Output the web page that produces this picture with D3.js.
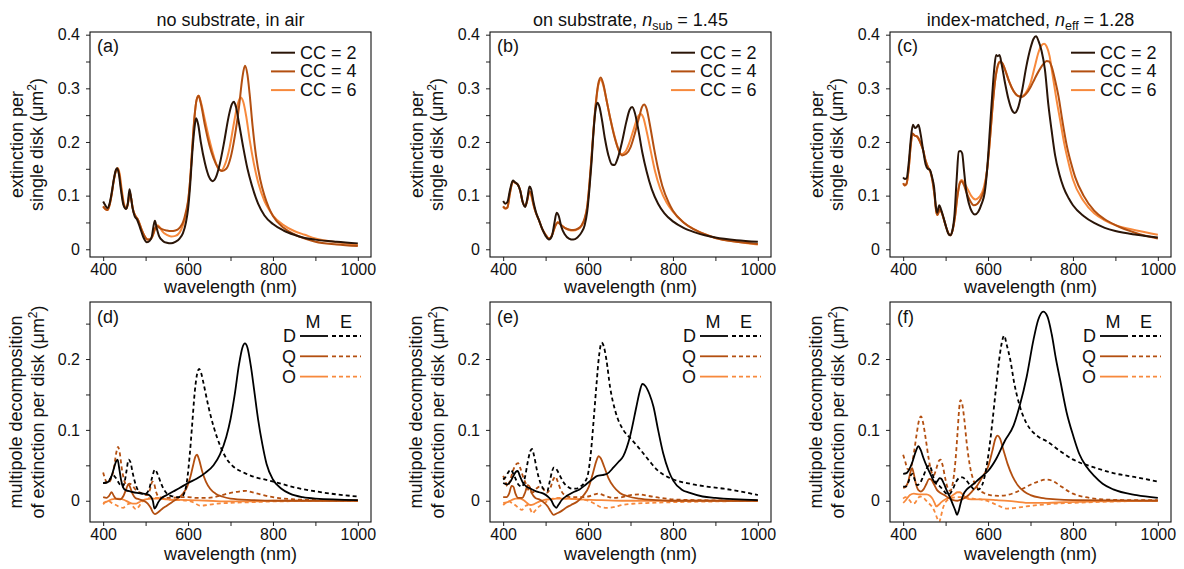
<!DOCTYPE html>
<html>
<head>
<meta charset="utf-8">
<script src="https://cdn.jsdelivr.net/npm/d3@7"></script>
<style>
  body { margin: 0; background: #fff; }
  svg { display: block; }
  text { font-family: 'Liberation Sans', Arial, Helvetica, sans-serif; fill: #111; }
</style>
</head>
<body>
<svg id="fig" width="1184" height="569"></svg>
<script>
// ---------- axis ticks ----------
const xTicks = [400, 500, 600, 700, 800, 900, 1000];
const xTickLabels = [400, 600, 800, 1000];
const extYTicks = [0, 0.05, 0.1, 0.15, 0.2, 0.25, 0.3, 0.35, 0.4];
const extYTickLabels = [0, 0.1, 0.2, 0.3, 0.4];
const mpYTicks = [0, 0.05, 0.1, 0.15, 0.2, 0.25];
const mpYTickLabels = [0, 0.1, 0.2];

// ---------- extinction per single disk, [wavelength nm, µm²] ----------
// (a) no substrate, in air
const airCC2 = [[400,.089],[405,.082],[410,.077],[415,.085],[420,.105],[425,.13],[430,.148],[433,.151],[437,.14],[442,.11],[448,.082],[454,.075],[458,.085],[462,.112],[465,.1],[469,.078],[474,.062],[480,.055],[487,.04],[495,.022],[503,.013],[510,.016],[515,.025],[519,.045],[522,.053],[526,.04],[532,.024],[540,.016],[550,.012],[560,.011],[570,.014],[580,.02],[588,.03],[595,.05],[600,.075],[605,.12],[610,.18],[615,.225],[619,.244],[624,.232],[630,.2],[640,.16],[650,.134],[658,.127],[665,.133],[675,.16],[685,.2],[695,.245],[703,.27],[708,.275],[713,.265],[720,.235],[730,.19],[740,.15],[750,.12],[765,.085],[780,.063],[800,.047],[825,.035],[850,.027],[875,.021],[900,.018],[950,.014],[1000,.011]];
const airCC4 = [[400,.08],[405,.075],[410,.073],[415,.082],[420,.102],[425,.128],[430,.146],[434,.151],[438,.14],[443,.11],[449,.082],[455,.076],[459,.088],[463,.106],[466,.095],[470,.075],[476,.062],[482,.055],[490,.038],[498,.024],[505,.018],[512,.019],[518,.028],[523,.04],[527,.043],[533,.04],[540,.037],[550,.035],[560,.034],[570,.035],[580,.04],[588,.05],[595,.07],[600,.09],[605,.13],[610,.19],[615,.245],[620,.278],[625,.286],[630,.272],[640,.23],[650,.195],[660,.17],[670,.153],[680,.146],[690,.15],[700,.17],[710,.21],[720,.265],[728,.32],[734,.342],[740,.325],[745,.29],[752,.23],[760,.175],[770,.13],[780,.1],[790,.078],[800,.062],[825,.04],[850,.028],[875,.02],[900,.014],[950,.009],[1000,.006]];
const airCC6 = [[400,.08],[405,.075],[410,.073],[415,.082],[420,.102],[425,.128],[430,.146],[435,.151],[439,.14],[444,.11],[450,.082],[455,.077],[459,.088],[463,.105],[466,.095],[470,.075],[476,.062],[482,.055],[490,.038],[498,.024],[505,.018],[512,.019],[518,.028],[523,.04],[528,.045],[534,.04],[540,.033],[550,.027],[560,.024],[570,.025],[580,.031],[588,.045],[595,.065],[600,.088],[605,.13],[610,.19],[615,.245],[620,.278],[625,.286],[630,.275],[640,.24],[650,.205],[660,.175],[670,.152],[678,.147],[688,.16],[698,.19],[708,.235],[716,.268],[724,.283],[730,.275],[737,.248],[745,.205],[755,.16],[765,.125],[780,.09],[790,.075],[800,.063],[825,.045],[850,.034],[875,.027],[900,.02],[950,.013],[1000,.008]];

// (b) on substrate, n_sub = 1.45
const subCC2 = [[400,.09],[405,.085],[410,.088],[416,.11],[423,.128],[428,.125],[435,.12],[440,.11],[446,.088],[452,.079],[457,.095],[462,.117],[466,.112],[471,.09],[477,.07],[484,.055],[492,.038],[500,.025],[508,.018],[515,.025],[521,.05],[526,.068],[531,.062],[537,.042],[545,.028],[555,.02],[565,.018],[575,.022],[585,.032],[592,.045],[598,.07],[603,.11],[608,.16],[613,.22],[618,.262],[622,.273],[627,.265],[633,.24],[640,.205],[648,.175],[656,.158],[662,.157],[670,.17],[680,.2],[690,.237],[698,.26],[704,.265],[710,.255],[718,.225],[728,.18],[738,.145],[750,.112],[765,.085],[780,.067],[800,.052],[825,.04],[850,.032],[875,.026],[900,.022],[950,.017],[1000,.014]];
const subCC4 = [[400,.08],[405,.076],[410,.078],[416,.105],[423,.127],[428,.124],[435,.12],[440,.11],[446,.088],[452,.08],[457,.092],[462,.108],[466,.104],[471,.085],[477,.068],[484,.055],[492,.038],[500,.027],[508,.02],[515,.026],[522,.042],[529,.05],[535,.046],[545,.04],[555,.037],[565,.036],[575,.038],[585,.045],[592,.058],[598,.08],[603,.12],[608,.17],[613,.225],[618,.27],[624,.308],[630,.32],[636,.308],[643,.28],[652,.245],[662,.21],[672,.185],[680,.175],[690,.178],[700,.19],[710,.215],[720,.245],[727,.265],[732,.27],[738,.262],[745,.235],[755,.19],[765,.15],[775,.118],[790,.087],[800,.072],[825,.05],[850,.037],[875,.028],[900,.021],[950,.014],[1000,.01]];
const subCC6 = [[400,.08],[405,.076],[410,.078],[416,.105],[423,.126],[428,.124],[435,.12],[440,.11],[446,.088],[452,.08],[457,.092],[461,.107],[466,.1],[471,.084],[477,.068],[484,.055],[492,.038],[500,.027],[508,.02],[515,.026],[522,.042],[529,.051],[535,.046],[545,.04],[555,.036],[565,.035],[575,.037],[585,.044],[592,.056],[598,.078],[603,.118],[608,.168],[613,.222],[618,.268],[624,.305],[630,.316],[636,.305],[643,.28],[652,.245],[662,.212],[670,.19],[678,.177],[688,.182],[698,.2],[708,.225],[717,.246],[724,.252],[730,.246],[738,.22],[748,.182],[758,.145],[770,.113],[785,.087],[800,.07],[825,.05],[850,.037],[875,.028],[900,.021],[950,.014],[1000,.009]];

// (c) index-matched, n_eff = 1.28
const matCC2 = [[400,.134],[404,.131],[408,.132],[413,.16],[418,.205],[423,.232],[428,.226],[432,.228],[436,.232],[441,.215],[447,.185],[453,.158],[458,.15],[463,.148],[468,.135],[473,.115],[477,.08],[480,.068],[485,.082],[489,.075],[494,.062],[500,.045],[506,.03],[511,.026],[516,.035],[521,.065],[526,.13],[531,.182],[535,.183],[539,.179],[543,.15],[548,.112],[555,.085],[562,.07],[569,.065],[577,.07],[585,.085],[592,.105],[598,.15],[604,.22],[610,.29],[615,.34],[619,.362],[623,.36],[627,.362],[632,.345],[640,.31],[648,.28],[656,.26],[663,.254],[670,.262],[680,.295],[690,.34],[700,.375],[707,.392],[713,.397],[719,.388],[726,.37],[734,.335],[742,.27],[750,.22],[758,.175],[768,.14],[778,.115],[790,.095],[800,.082],[825,.062],[850,.049],[875,.04],[900,.034],[950,.027],[1000,.022]];
const matCC4 = [[400,.123],[404,.119],[408,.122],[413,.15],[418,.195],[422,.216],[427,.212],[433,.21],[440,.2],[447,.185],[453,.165],[459,.152],[464,.145],[469,.128],[474,.1],[478,.07],[481,.064],[486,.074],[490,.07],[495,.058],[501,.042],[507,.029],[511,.026],[516,.034],[522,.06],[528,.1],[534,.124],[538,.127],[543,.12],[550,.104],[558,.09],[566,.082],[575,.085],[585,.098],[592,.115],[598,.15],[604,.2],[610,.26],[616,.31],[622,.34],[628,.35],[633,.348],[640,.335],[650,.312],[660,.295],[670,.286],[680,.284],[690,.29],[700,.302],[710,.318],[720,.333],[730,.345],[738,.351],[744,.35],[750,.34],[758,.315],[766,.285],[775,.24],[785,.195],[795,.162],[805,.135],[825,.1],[850,.072],[875,.056],[900,.045],[950,.03],[1000,.02]];
const matCC6 = [[400,.123],[404,.119],[408,.122],[413,.15],[418,.195],[422,.216],[427,.212],[433,.21],[440,.2],[447,.185],[453,.165],[459,.152],[464,.145],[469,.128],[474,.1],[478,.07],[481,.064],[486,.074],[490,.07],[495,.058],[501,.042],[507,.029],[511,.026],[516,.034],[522,.06],[528,.1],[534,.126],[538,.129],[545,.122],[552,.112],[560,.1],[570,.093],[580,.098],[590,.115],[598,.15],[604,.2],[610,.26],[616,.31],[622,.338],[628,.348],[633,.347],[640,.335],[650,.312],[660,.295],[670,.286],[680,.285],[690,.293],[700,.31],[710,.34],[718,.365],[726,.38],[732,.383],[738,.378],[745,.36],[752,.325],[760,.285],[770,.24],[780,.195],[790,.16],[800,.13],[825,.09],[850,.067],[875,.054],[900,.045],[950,.035],[1000,.027]];

// ---------- multipole decomposition per disk, [wavelength nm, µm²] ----------
// D = dipole, Q = quadrupole, O = octupole; M = magnetic, E = electric
// (d) in air
const airDM = [[400,.025],[410,.026],[418,.032],[425,.045],[430,.055],[434,.058],[438,.045],[442,.03],[447,.019],[453,.015],[465,.013],[480,.011],[495,.01],[505,.009],[512,.006],[517,0],[521,-.011],[525,-.008],[530,-.002],[538,.004],[550,.008],[565,.013],[580,.018],[600,.025],[620,.031],[640,.039],[660,.05],[675,.065],[690,.09],[700,.115],[710,.15],[720,.192],[728,.216],[734,.222],[740,.216],[748,.19],[756,.155],[765,.115],[775,.08],[785,.052],[800,.03],[820,.017],[840,.01],[870,.005],[900,.003],[1000,.001]];
const airDE = [[400,.025],[408,.026],[415,.03],[423,.036],[430,.032],[438,.024],[445,.02],[450,.025],[455,.042],[460,.058],[464,.055],[470,.038],[477,.022],[484,.013],[492,.01],[500,.01],[508,.016],[515,.032],[522,.044],[528,.038],[536,.025],[545,.014],[555,.008],[565,.006],[575,.005],[585,.006],[592,.012],[598,.03],[604,.065],[610,.11],[616,.155],[621,.178],[626,.186],[631,.18],[636,.167],[648,.133],[660,.105],[676,.077],[690,.06],[707,.048],[730,.04],[754,.034],[780,.03],[801,.027],[850,.019],[903,.013],[950,.009],[1000,.006]];
const airQM = [[400,.005],[408,.004],[414,.007],[420,.012],[425,.007],[430,.003],[440,.002],[448,.007],[454,.016],[459,.023],[463,.02],[469,.01],[476,.004],[485,.002],[495,0],[505,-.004],[512,-.01],[518,-.017],[522,-.019],[528,-.017],[538,-.012],[550,-.007],[562,-.002],[575,.003],[588,.01],[598,.02],[606,.035],[612,.05],[617,.062],[621,.065],[626,.058],[633,.042],[642,.027],[652,.017],[665,.01],[680,.006],[700,.003],[750,.001],[800,0],[1000,0]];
const airQE = [[400,.04],[405,.03],[410,.025],[418,.03],[425,.045],[431,.068],[435,.076],[439,.068],[444,.045],[450,.028],[456,.022],[462,.024],[468,.022],[476,.016],[485,.012],[495,.01],[503,.008],[510,.015],[516,.027],[520,.024],[525,.012],[532,.005],[545,.004],[560,.004],[580,.005],[600,.005],[620,.004],[640,.004],[660,.005],[680,.008],[700,.011],[720,.013],[735,.014],[750,.012],[770,.009],[800,.005],[850,.002],[900,.001],[1000,0]];
const airOM = [[400,-.003],[410,-.001],[420,.002],[435,.003],[450,.001],[460,-.002],[470,-.004],[478,-.004],[488,-.001],[500,.002],[515,.003],[530,.003],[550,.002],[600,.001],[650,0],[700,-.001],[750,-.001],[800,0],[1000,0]];
const airOE = [[400,-.005],[405,-.002],[412,0],[420,-.003],[430,-.006],[440,-.009],[447,-.01],[455,-.006],[463,-.004],[470,-.008],[477,-.012],[483,-.009],[490,-.003],[500,.002],[515,.004],[530,.004],[550,.002],[575,.001],[600,0],[615,-.003],[628,-.007],[645,-.006],[670,-.004],[700,-.003],[750,-.002],[800,-.001],[1000,0]];

// (e) on substrate
const subDM = [[400,.025],[410,.023],[418,.028],[425,.036],[430,.041],[434,.042],[440,.034],[446,.026],[455,.02],[465,.017],[475,.014],[485,.012],[495,.01],[505,.006],[513,.001],[520,-.007],[525,-.01],[530,-.006],[538,.001],[550,.007],[565,.012],[580,.016],[595,.023],[610,.03],[622,.035],[632,.036],[645,.038],[660,.047],[672,.055],[683,.063],[699,.091],[714,.133],[722,.155],[728,.165],[735,.162],[745,.15],[754,.133],[765,.1],[777,.067],[790,.042],[801,.028],[820,.016],[840,.011],[870,.006],[900,.004],[1000,.001]];
const subDE = [[400,.03],[405,.033],[412,.04],[418,.044],[424,.038],[430,.03],[437,.022],[445,.02],[452,.035],[458,.055],[464,.07],[468,.073],[473,.063],[480,.042],[488,.025],[496,.016],[504,.014],[510,.028],[516,.043],[520,.047],[526,.044],[534,.035],[542,.026],[552,.02],[562,.017],[572,.017],[582,.02],[592,.026],[600,.038],[607,.07],[614,.12],[620,.165],[626,.205],[632,.223],[637,.218],[643,.2],[652,.16],[665,.125],[683,.1],[700,.088],[715,.078],[730,.067],[746,.055],[762,.044],[780,.036],[801,.03],[840,.024],[880,.02],[920,.017],[960,.013],[1000,.008]];
const subQM = [[400,.005],[408,.005],[414,.01],[420,.021],[424,.02],[429,.01],[435,.004],[445,.004],[452,.012],[458,.022],[462,.02],[468,.01],[476,.004],[485,.002],[495,-.002],[505,-.008],[513,-.016],[519,-.02],[526,-.018],[536,-.015],[548,-.01],[560,-.006],[575,-.001],[590,.008],[602,.02],[612,.04],[620,.057],[625,.063],[630,.06],[638,.048],[648,.032],[660,.02],[675,.011],[695,.006],[720,.003],[760,.001],[800,0],[1000,0]];
const subQE = [[400,.035],[405,.028],[410,.02],[416,.028],[423,.042],[430,.051],[435,.053],[441,.045],[448,.032],[455,.022],[463,.012],[470,.012],[478,.017],[486,.02],[494,.017],[502,.011],[510,.016],[518,.03],[523,.034],[528,.028],[536,.015],[545,.008],[560,.005],[580,.005],[600,.006],[615,.009],[625,.01],[640,.007],[660,.004],[680,.005],[700,.008],[720,.009],[740,.007],[770,.004],[800,.002],[850,.001],[1000,0]];
const subOM = [[400,-.003],[410,-.002],[420,.001],[430,.003],[440,.003],[450,0],[458,-.004],[465,-.006],[472,-.005],[482,-.002],[495,.001],[510,.002],[525,.003],[550,.003],[580,.002],[620,.001],[680,0],[750,0],[1000,0]];
const subOE = [[400,-.006],[406,-.003],[412,0],[420,-.003],[428,-.006],[436,-.01],[444,-.013],[450,-.009],[457,-.006],[464,-.012],[469,-.018],[474,-.015],[481,-.01],[490,-.006],[500,-.002],[512,.002],[530,.004],[550,.003],[580,.002],[600,0],[615,-.004],[630,-.009],[645,-.01],[660,-.009],[680,-.006],[710,-.004],[750,-.003],[800,-.002],[900,-.001],[1000,0]];

// (f) index-matched
const matDM = [[400,.038],[408,.039],[415,.045],[422,.055],[430,.07],[436,.077],[441,.072],[448,.06],[456,.048],[464,.038],[470,.03],[476,.025],[481,.028],[486,.032],[490,.031],[496,.024],[503,.014],[510,.005],[517,-.005],[523,-.014],[527,-.02],[531,-.014],[536,-.002],[542,.009],[550,.016],[560,.021],[572,.027],[585,.034],[600,.042],[620,.06],[640,.085],[660,.106],[675,.135],[691,.175],[707,.227],[718,.255],[730,.267],[740,.26],[750,.235],[760,.2],[770,.17],[785,.125],[801,.091],[815,.066],[832,.048],[850,.035],[870,.024],[895,.016],[950,.008],[1000,.004]];
const matDE = [[400,.02],[406,.02],[412,.026],[418,.036],[422,.038],[427,.03],[433,.022],[440,.025],[447,.034],[455,.045],[461,.05],[466,.045],[472,.032],[480,.022],[487,.02],[493,.016],[500,.011],[508,.009],[516,.015],[524,.026],[532,.032],[540,.033],[548,.029],[558,.022],[568,.016],[577,.016],[586,.022],[594,.04],[602,.07],[610,.11],[618,.155],[626,.198],[632,.222],[638,.233],[644,.22],[652,.2],[662,.165],[675,.133],[690,.11],[707,.096],[722,.089],[738,.084],[770,.07],[801,.058],[850,.047],[895,.039],[950,.033],[1000,.027]];
const matQM = [[400,.018],[406,.02],[412,.027],[417,.04],[421,.046],[425,.038],[430,.024],[436,.015],[442,.013],[448,.016],[455,.024],[461,.031],[466,.03],[472,.024],[480,.015],[488,.011],[497,.008],[507,.004],[518,.001],[528,0],[538,.002],[550,.006],[562,.013],[575,.022],[588,.035],[600,.048],[610,.07],[617,.087],[622,.092],[628,.088],[636,.072],[646,.052],[658,.034],[670,.022],[685,.013],[700,.008],[725,.004],[760,.002],[800,.001],[1000,0]];
const matQE = [[400,.065],[405,.055],[410,.045],[415,.044],[420,.05],[426,.07],[432,.095],[438,.115],[442,.119],[447,.11],[453,.088],[460,.06],[466,.042],[472,.036],[478,.045],[484,.056],[488,.058],[493,.05],[499,.032],[505,.018],[511,.014],[517,.025],[523,.055],[528,.095],[532,.13],[535,.142],[539,.137],[544,.115],[550,.08],[557,.05],[565,.03],[575,.018],[590,.011],[605,.008],[625,.007],[645,.008],[665,.012],[685,.018],[705,.024],[722,.028],[738,.03],[752,.028],[768,.022],[785,.015],[800,.01],[830,.005],[870,.002],[920,.001],[1000,.001]];
const matOM = [[400,-.003],[405,0],[410,.004],[416,.008],[425,.01],[440,.009],[455,.009],[463,.007],[469,.003],[474,-.003],[478,-.008],[483,-.006],[490,-.002],[500,.002],[510,.005],[520,.009],[528,.012],[534,.012],[540,.009],[548,.004],[560,.002],[590,.002],[620,.001],[660,-.001],[700,-.003],[740,-.003],[780,-.002],[850,-.001],[1000,0]];
const matOE = [[400,.003],[405,.005],[410,.004],[416,0],[422,-.004],[428,-.003],[434,.003],[440,.006],[448,.004],[456,-.001],[463,-.005],[470,-.01],[476,-.018],[481,-.026],[485,-.03],[489,-.022],[494,-.01],[500,-.002],[510,.003],[525,.005],[545,.005],[565,.003],[590,.001],[610,-.003],[628,-.008],[645,-.011],[665,-.01],[690,-.008],[720,-.006],[760,-.004],[800,-.003],[900,-.001],[1000,0]];

// ---------- styling ----------
const cDark = '#2a1508', cMid = '#b34f10', cLight = '#f7893c';
const colLeft = [90, 490, 890];
const panelW = 281;
const xDomain = [369, 1031];
const labelSize = '18px';
const tickSize = '16px';

const svg = d3.select('#fig');

const rows = [
  { top: 32, h: 225, yDomain: [-0.0144, 0.405], yTicks: extYTicks, yLabels: extYTickLabels,
    ylab: ['extinction per', 'single disk (μm'], ylabX: [67, 47], titleDy: 36 },
  { top: 302, h: 220, yDomain: [-0.0300, 0.2805], yTicks: mpYTicks, yLabels: mpYTickLabels,
    ylab: ['multipole decomposition', 'of extinction per disk (μm'], ylabX: [68, 46], titleDy: 37.5 }
];

const extPanels = [
  { tag: '(a)', series: [airCC2, airCC4, airCC6] },
  { tag: '(b)', series: [subCC2, subCC4, subCC6] },
  { tag: '(c)', series: [matCC2, matCC4, matCC6] }
];
const mpPanels = [
  { tag: '(d)', series: [airDM, airDE, airQM, airQE, airOM, airOE] },
  { tag: '(e)', series: [subDM, subDE, subQM, subQE, subOM, subOE] },
  { tag: '(f)', series: [matDM, matDE, matQM, matQE, matOM, matOE] }
];
const ccNames = ['CC = 2', 'CC = 4', 'CC = 6'];
const ccColors = [cDark, cMid, cLight];
const mpColors = ['#000000', '#000000', cMid, cMid, cLight, cLight];
const mpDashed = [false, true, false, true, false, true];

const fmt = d => (d === 0 ? '0' : d3.format('.1f')(d));

function frame(col, row, idx) {
  const x0 = colLeft[col];
  const g = svg.append('g').attr('transform', `translate(${x0},${row.top})`);
  const x = d3.scaleLinear().domain(xDomain).range([0, panelW]);
  const y = d3.scaleLinear().domain(row.yDomain).range([row.h, 0]);

  const xa = g.append('g').attr('transform', `translate(0,${row.h})`)
    .call(d3.axisBottom(x).tickValues(xTicks).tickSize(4).tickPadding(3)
      .tickFormat(d => xTickLabels.includes(d) ? d : ''));
  const ya = g.append('g')
    .call(d3.axisLeft(y).tickValues(row.yTicks).tickSize(4).tickPadding(6)
      .tickFormat(d => row.yLabels.includes(d) ? fmt(d) : ''));
  [xa, ya].forEach(a => {
    a.select('.domain').remove();
    a.selectAll('line').attr('stroke', '#222');
    a.selectAll('text').style('font-size', tickSize).attr('fill', '#111');
  });

  const clipId = 'clip' + idx;
  g.append('clipPath').attr('id', clipId)
    .append('rect').attr('width', panelW).attr('height', row.h);
  const plot = g.append('g').attr('clip-path', `url(#${clipId})`);

  g.append('rect').attr('width', panelW).attr('height', row.h)
    .attr('fill', 'none').attr('stroke', '#111').attr('stroke-width', 1.1);

  // x axis title
  svg.append('text').attr('x', x0 + panelW / 2).attr('y', row.top + row.h + row.titleDy)
    .attr('text-anchor', 'middle').style('font-size', labelSize).text('wavelength (nm)');

  // y axis title (two lines)
  const cy = row.top + row.h / 2;
  svg.append('text').attr('transform', `translate(${x0 - row.ylabX[0]},${cy}) rotate(-90)`)
    .attr('text-anchor', 'middle').style('font-size', labelSize).text(row.ylab[0]);
  const t2 = svg.append('text').attr('transform', `translate(${x0 - row.ylabX[1]},${cy}) rotate(-90)`)
    .attr('text-anchor', 'middle').style('font-size', labelSize);
  t2.append('tspan').text(row.ylab[1]);
  t2.append('tspan').attr('dy', -7).style('font-size', '12px').text('2');
  t2.append('tspan').attr('dy', 7).text(')');

  return { g, plot, x, y };
}

const line = (x, y) => d3.line().x(d => x(d[0])).y(d => y(d[1])).curve(d3.curveMonotoneX);

// ---------- top row: extinction ----------
extPanels.forEach((p, i) => {
  const { g, plot, x, y } = frame(i, rows[0], i);
  // CC = 2 drawn last so it sits on top
  [2, 1, 0].forEach(k => {
    plot.append('path').datum(p.series[k]).attr('d', line(x, y))
      .attr('fill', 'none').attr('stroke', ccColors[k]).attr('stroke-width', 2)
      .attr('stroke-linejoin', 'round');
  });
  g.append('text').attr('x', 7).attr('y', 19.5).style('font-size', labelSize).text(p.tag);
  ccNames.forEach((name, k) => {
    const ly = 20.7 + k * 18.7;
    g.append('line').attr('x1', 181).attr('x2', 205).attr('y1', ly).attr('y2', ly)
      .attr('stroke', ccColors[k]).attr('stroke-width', 2);
    g.append('text').attr('x', 210).attr('y', ly + 6).style('font-size', labelSize).text(name);
  });
});

// ---------- bottom row: multipole decomposition ----------
mpPanels.forEach((p, i) => {
  const { g, plot, x, y } = frame(i, rows[1], i + 3);
  [5, 4, 3, 2, 1, 0].forEach(k => {
    plot.append('path').datum(p.series[k]).attr('d', line(x, y))
      .attr('fill', 'none').attr('stroke', mpColors[k]).attr('stroke-width', 1.8)
      .attr('stroke-dasharray', mpDashed[k] ? '4,3' : null);
  });
  g.append('text').attr('x', 7).attr('y', 21).style('font-size', labelSize).text(p.tag);
  g.append('text').attr('x', 223).attr('y', 26).attr('text-anchor', 'middle')
    .style('font-size', labelSize).text('M');
  g.append('text').attr('x', 256).attr('y', 26).attr('text-anchor', 'middle')
    .style('font-size', labelSize).text('E');
  ['D', 'Q', 'O'].forEach((name, k) => {
    const ly = 34 + k * 20.3;
    g.append('text').attr('x', 206).attr('y', ly + 6.2).attr('text-anchor', 'end')
      .style('font-size', labelSize).text(name);
    g.append('line').attr('x1', 210).attr('x2', 238).attr('y1', ly).attr('y2', ly)
      .attr('stroke', mpColors[k * 2]).attr('stroke-width', 1.8);
    g.append('line').attr('x1', 242).attr('x2', 271).attr('y1', ly).attr('y2', ly)
      .attr('stroke', mpColors[k * 2]).attr('stroke-width', 1.8).attr('stroke-dasharray', '4,3');
  });
});

// ---------- column titles ----------
const titleY = 26;
svg.append('text').attr('x', colLeft[0] + panelW / 2).attr('y', titleY)
  .attr('text-anchor', 'middle').style('font-size', labelSize).text('no substrate, in air');

const tb = svg.append('text').attr('x', colLeft[1] + panelW / 2).attr('y', titleY)
  .attr('text-anchor', 'middle').style('font-size', labelSize);
tb.append('tspan').text('on substrate, ');
tb.append('tspan').style('font-style', 'italic').text('n');
tb.append('tspan').attr('dy', 4).style('font-size', '12.5px').text('sub');
tb.append('tspan').attr('dy', -4).text(' = 1.45');

const tc = svg.append('text').attr('x', colLeft[2] + panelW / 2).attr('y', titleY)
  .attr('text-anchor', 'middle').style('font-size', labelSize);
tc.append('tspan').text('index-matched, ');
tc.append('tspan').style('font-style', 'italic').text('n');
tc.append('tspan').attr('dy', 4).style('font-size', '12.5px').text('eff');
tc.append('tspan').attr('dy', -4).text(' = 1.28');
</script>
</body>
</html>
